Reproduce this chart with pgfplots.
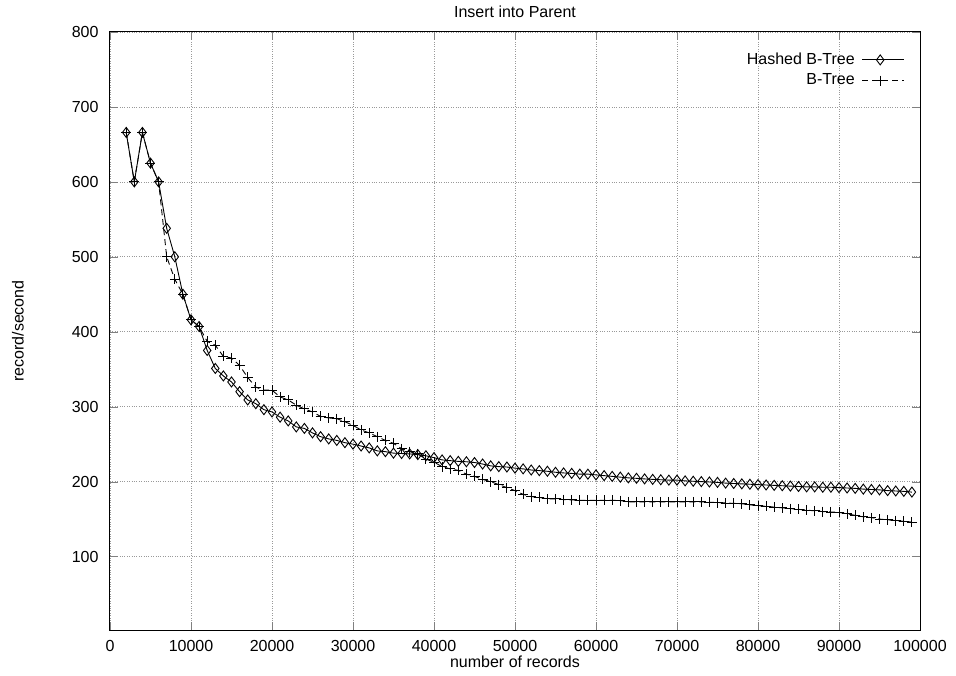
\documentclass[border=0pt]{standalone}
\usepackage{pgfplots}
\pgfplotsset{compat=1.18}
\usepackage{pgfplotstable}
\usepackage{fontspec}
\setmainfont{Liberation Sans}

\pgfplotstableread{
x y
2000 666
3000 600
4000 666
5000 625
6000 600
7000 538
8000 500
9000 450
10000 416
11000 407
12000 375
13000 351
14000 341
15000 333
16000 320
17000 309
18000 304
19000 296
20000 293
21000 286
22000 281
23000 273
24000 271
25000 265
26000 260
27000 257
28000 255
29000 252
30000 250
31000 247.5
32000 245
33000 241
34000 240
35000 238
36000 237.5
37000 237
38000 236
39000 234.5
40000 232
41000 229
42000 228
43000 227
44000 226.5
45000 225.5
46000 223.5
47000 221
48000 220
49000 219.5
50000 218
51000 217
52000 215.5
53000 214.7
54000 213.8
55000 212.5
56000 211.6
57000 211
58000 210
59000 210
60000 209
61000 208
62000 207
63000 206
64000 205
65000 204.4
66000 203.6
67000 203
68000 202.5
69000 202
70000 202
71000 201
72000 200.5
73000 200
74000 199.5
75000 199
76000 198
77000 197.5
78000 197
79000 196.5
80000 196
81000 195.5
82000 195
83000 194.5
84000 194
85000 193.5
86000 193
87000 193
88000 192.5
89000 192.5
90000 192
91000 191.5
92000 191
93000 190
94000 189.5
95000 189
96000 188
97000 187.5
98000 187
99000 186
}\hashed

\pgfplotstableread{
x y
2000 666
3000 600
4000 666
5000 625
6000 600
7000 500
8000 470
9000 450
10000 416
11000 407
12000 387
13000 382
14000 367
15000 365
16000 355
17000 339
18000 326
19000 322
20000 322
21000 313
22000 309
23000 302
24000 297
25000 293
26000 287
27000 285
28000 284
29000 280
30000 275
31000 269
32000 265
33000 260
34000 255
35000 251
36000 244
37000 240
38000 237
39000 230
40000 226
41000 220
42000 217
43000 215
44000 210
45000 207
46000 203
47000 200
48000 196
49000 192
50000 188
51000 183
52000 180
53000 179
54000 177
55000 177
56000 176
57000 175.6
58000 175
59000 175
60000 175
61000 175
62000 175
63000 174.7
64000 173
65000 173
66000 173
67000 173
68000 173
69000 173
70000 173
71000 173
72000 173
73000 173
74000 172.5
75000 172
76000 171.5
77000 171
78000 170.5
79000 169
80000 168
81000 167
82000 166
83000 165
84000 164
85000 163
86000 162
87000 161
88000 160
89000 159.5
90000 159
91000 157
92000 155
93000 153
94000 152
95000 150
96000 149
97000 148
98000 147
99000 146
}\btree

\begin{document}
\fontsize{16}{19}\selectfont
\begin{tikzpicture}
\begin{axis}[
  scale only axis,
  width=810pt, height=598pt,
  xmin=0, xmax=100000,
  ymin=2, ymax=800,
  xtick={0,10000,...,100000},
  ytick={100,200,...,800},
  scaled x ticks=false,
  /pgf/number format/assume math mode=true,
  xticklabel style={/pgf/number format/fixed, /pgf/number format/1000 sep={}, font=\fontsize{16}{19}\selectfont, yshift=-5pt},
  yticklabel style={font=\fontsize{16}{19}\selectfont, xshift=-6pt},
  tick align=inside,
  major tick length=8pt,
  axis line style={line width=1pt},
  grid=major,
  major grid style={dotted, gray!80, line width=0.7pt},
  title={Insert into Parent},
  title style={at={(axis description cs:0.5,1.0234)}, anchor=center, font=\fontsize{16}{19}\selectfont},
  xlabel={number of records},
  xlabel style={at={(axis description cs:0.5,-0.0535)}, anchor=center, font=\fontsize{16}{19}\selectfont},
  ylabel={record/second},
  ylabel style={at={(axis description cs:-0.1136,0.5)}, anchor=center, font=\fontsize{16}{19}\selectfont},
  legend style={draw=none, fill=none, at={(0.985,0.972)}, anchor=north east, font=\fontsize{16}{19}\selectfont, row sep=3pt},
  legend cell align=right,
  legend plot pos=right,
  legend image code/.code={
    \draw[mark repeat=2,mark phase=2,#1] plot coordinates {(0pt,0pt) (18pt,0pt) (42pt,0pt)};
  },
]
\addplot[black, line width=0.9pt, mark=diamond, mark size=5pt, mark options={solid, line width=0.9pt, fill=white}] table[x=x,y=y]{\hashed};
\addlegendentry{Hashed B-Tree\hspace*{5pt}\mbox{}}
\addplot[black, line width=0.9pt, dash pattern=on 6pt off 4pt, mark=+, mark size=5pt, mark options={solid, line width=0.9pt}] table[x=x,y=y]{\btree};
\addlegendentry{B-Tree\hspace*{5pt}\mbox{}}
\end{axis}
\pgfresetboundingbox
\path[use as bounding box] (-110pt,-45pt) rectangle (846pt,630pt);
\end{tikzpicture}
\end{document}
